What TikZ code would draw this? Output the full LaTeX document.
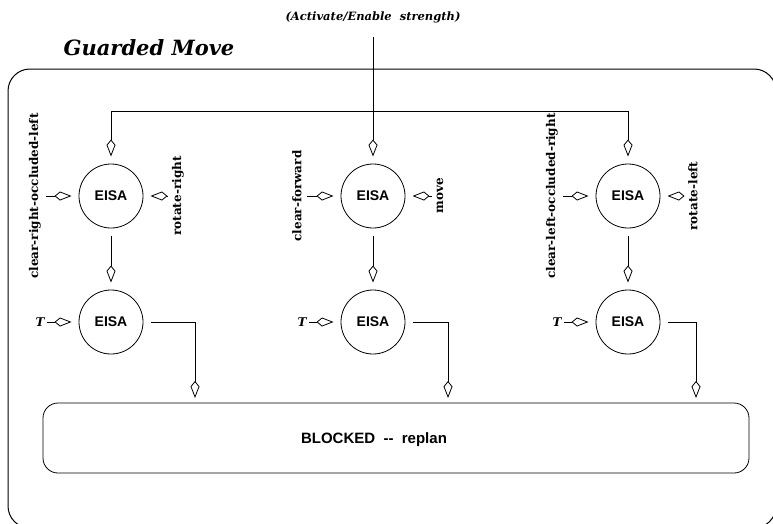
\documentclass[tikz,border=0pt]{standalone}
\usepackage{fontspec}
\setmainfont{DejaVu Serif}
\newfontfamily\eisafont{Liberation Sans}
\usetikzlibrary{arrows.meta}

\begin{document}
\begin{tikzpicture}[x=1pt,y=-1pt]
	\tikzstyle{eisa}=[circle,draw=black,line width=0.8pt,minimum size=64pt,inner sep=0pt,outer sep=7.5pt,font=\eisafont\bfseries\fontsize{14}{14}\selectfont]
	\tikzstyle{sensor}=[rotate=90,inner sep=0pt,outer sep=5pt,font=\bfseries\fontsize{12}{12}\selectfont]
	\tikzstyle{tsig}=[inner sep=0pt,outer sep=3pt,font=\bfseries\itshape\fontsize{12}{12}\selectfont]
	\tikzstyle{flow}=[draw,line width=0.8pt,-{Kite[fill=white,length=17pt,width=9pt,inset=5.5pt]}]
	\useasboundingbox (0,0) rectangle (773,523);
	\draw[line width=1pt,rounded corners=22pt] (8,69) rectangle (776,528);
	\node [font=\bfseries\itshape\fontsize{21}{21}\selectfont] (title) at (149,48) {Guarded Move};
	\node [font=\bfseries\itshape\fontsize{11.5}{11.5}\selectfont,outer sep=11pt] (strength) at (373,17) {(Activate/Enable\ \ strength)};
	\begin{scope}
		\node [eisa] (left) at (111,196) {EISA};
		\node [eisa] (mid) at (373,196) {EISA};
		\node [eisa] (right) at (628,196) {EISA};
		\node [eisa] (leftT) at (111,322) {EISA};
		\node [eisa] (midT) at (373,322) {EISA};
		\node [eisa] (rightT) at (628,322) {EISA};
		\node [sensor] (leftin) at (35,196) {clear-right-occluded-left};
		\node [sensor] (leftout) at (178,196) {rotate-right};
		\node [sensor] (midin) at (297,196) {clear-forward};
		\node [sensor] (midout) at (440,196) {move};
		\node [sensor] (rightin) at (552,196) {clear-left-occluded-right};
		\node [sensor] (rightout) at (693,196) {rotate-left};
		\node [tsig] (leftTin) at (40,322) {T};
		\node [tsig] (midTin) at (302,322) {T};
		\node [tsig] (rightTin) at (557,322) {T};
		\node [draw,line width=0.8pt,rounded corners=15pt,minimum width=706pt,minimum height=70pt] (blocked) at (396,438) {};
		\node [font=\eisafont\bfseries\fontsize{15}{15}\selectfont] (blockedtxt) at (374,440) {BLOCKED\ \ -{}-\ \ replan};
		\coordinate (barL) at (111,111);
		\coordinate (barR) at (628,111);
		\coordinate (leftend) at (195,398);
		\coordinate (midend) at (448,398);
		\coordinate (rightend) at (696,398);
		\draw[line width=0.8pt] (barL) -- (barR);
		\draw[flow] (strength) -- (mid);
		\draw[flow] (barL) -- (left);
		\draw[flow] (barR) -- (right);
		\draw[flow] (leftin) -- (left);
		\draw[flow] (leftout) -- (left);
		\draw[flow] (midin) -- (mid);
		\draw[flow] (midout) -- (mid);
		\draw[flow] (rightin) -- (right);
		\draw[flow] (rightout) -- (right);
		\draw[flow] (left) -- (leftT);
		\draw[flow] (mid) -- (midT);
		\draw[flow] (right) -- (rightT);
		\draw[flow] (leftTin) -- (leftT);
		\draw[flow] (midTin) -- (midT);
		\draw[flow] (rightTin) -- (rightT);
		\draw[flow] (leftT) -| (leftend);
		\draw[flow] (midT) -| (midend);
		\draw[flow] (rightT) -| (rightend);
	\end{scope}
\end{tikzpicture}
\end{document}
